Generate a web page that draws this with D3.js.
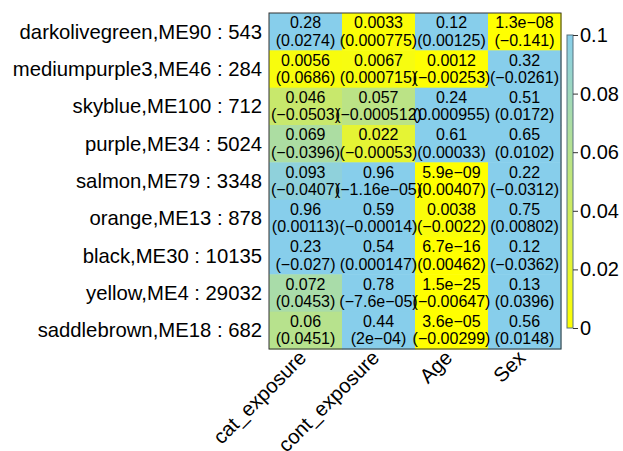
<!DOCTYPE html>
<html><head><meta charset="utf-8">
<script src="https://cdn.jsdelivr.net/npm/d3@7"></script>
<style>body{margin:0;background:#fff}svg{display:block}text{font-family:"Liberation Sans",Arial,sans-serif;fill:#000}</style>
</head><body>
<svg id="c" width="623" height="451"></svg>
<script>
const rowLabels = ["darkolivegreen,ME90 : 543","mediumpurple3,ME46 : 284","skyblue,ME100 : 712","purple,ME34 : 5024","salmon,ME79 : 3348","orange,ME13 : 878","black,ME30 : 10135","yellow,ME4 : 29032","saddlebrown,ME18 : 682"];
const colLabels = ["cat_exposure","cont_exposure","Age","Sex"];
const pLabels = [
 ["0.28","0.0033","0.12","1.3e−08"],
 ["0.0056","0.0067","0.0012","0.32"],
 ["0.046","0.057","0.24","0.51"],
 ["0.069","0.022","0.61","0.65"],
 ["0.093","0.96","5.9e−09","0.22"],
 ["0.96","0.59","0.0038","0.75"],
 ["0.23","0.54","6.7e−16","0.12"],
 ["0.072","0.78","1.5e−25","0.13"],
 ["0.06","0.44","3.6e−05","0.56"]
];
const effectLabels = [
 ["0.0274","0.000775","0.00125","−0.141"],
 ["0.0686","0.000715","−0.00253","−0.0261"],
 ["−0.0503","−0.000512","0.000955","0.0172"],
 ["−0.0396","−0.00053","0.00033","0.0102"],
 ["−0.0407","−1.16e−05","0.00407","−0.0312"],
 ["0.00113","−0.00014","−0.0022","0.00802"],
 ["−0.027","0.000147","0.00462","−0.0362"],
 ["0.0453","−7.6e−05","−0.00647","0.0396"],
 ["0.0451","2e−04","−0.00299","0.0148"]
];
const legendTicks = [0,0.02,0.04,0.06,0.08,0.1];

const svg = d3.select("#c");
const L=269, T=13, R=561, B=349;
const x = d3.scaleBand().domain(colLabels).range([L,R]);
const y = d3.scaleBand().domain(rowLabels).range([T,B]);
const color = d3.scaleLinear().domain([0,0.1]).range(["#FFFF00","#87CEEB"]).clamp(true).interpolate(d3.interpolateRgb);
const num = s => +s.replace("−","-");

const cells = [];
rowLabels.forEach((r,i)=>colLabels.forEach((c,j)=>cells.push({r,c,p:pLabels[i][j],e:effectLabels[i][j]})));

svg.selectAll("rect.cell").data(cells).join("rect")
  .attr("x",d=>x(d.c)).attr("y",d=>y(d.r))
  .attr("width",x.bandwidth()+0.5).attr("height",y.bandwidth()+0.5)
  .attr("fill",d=>color(num(d.p)));

const g = svg.append("g").attr("font-size","16px").attr("text-anchor","middle");
g.selectAll("text.p").data(cells).join("text")
  .attr("x",d=>x(d.c)+x.bandwidth()/2).attr("y",d=>y(d.r)+y.bandwidth()/2-9)
  .attr("dy","0.35em").text(d=>d.p);
g.selectAll("text.e").data(cells).join("text")
  .attr("x",d=>x(d.c)+x.bandwidth()/2).attr("y",d=>y(d.r)+y.bandwidth()/2+8.5)
  .attr("dy","0.35em").text(d=>"("+d.e+")");

svg.append("rect").attr("x",L).attr("y",T).attr("width",R-L).attr("height",B-T)
  .attr("fill","none").attr("stroke","#333").attr("stroke-width",1);

svg.append("g").attr("font-size","20.3px").attr("text-anchor","end")
  .selectAll("text").data(rowLabels).join("text")
  .attr("x",L-7).attr("y",d=>y(d)+y.bandwidth()/2).attr("dy","0.35em").text(d=>d);

svg.append("g").attr("font-size","20.3px").attr("text-anchor","end")
  .selectAll("text").data(colLabels).join("text")
  .attr("transform",d=>`translate(${x(d)+x.bandwidth()/2-8},${B+0}) rotate(-45)`)
  .attr("dy","0.7em").text(d=>d);

// legend
const ly = d3.scaleLinear().domain([0,0.1]).range([328,35]);
const defs = svg.append("defs");
const grad = defs.append("linearGradient").attr("id","lg").attr("x1",0).attr("y1",1).attr("x2",0).attr("y2",0);
d3.range(0,1.01,0.1).forEach(t=>grad.append("stop").attr("offset",t).attr("stop-color",color(t*0.1)));
svg.append("rect").attr("x",567).attr("y",ly(0.1)).attr("width",6).attr("height",ly(0)-ly(0.1))
  .attr("fill","url(#lg)").attr("stroke","#56707e").attr("stroke-width",1);
const ax = svg.append("g").attr("transform","translate(573,0)")
  .call(d3.axisRight(ly).tickValues(legendTicks).tickSize(5).tickPadding(2).tickFormat(d=>String(d)));
ax.select(".domain").remove();
ax.selectAll("text").attr("font-size","20px").attr("font-family","'Liberation Sans',Arial,sans-serif");
ax.selectAll("line").attr("stroke","#333");
</script>
</body></html>
